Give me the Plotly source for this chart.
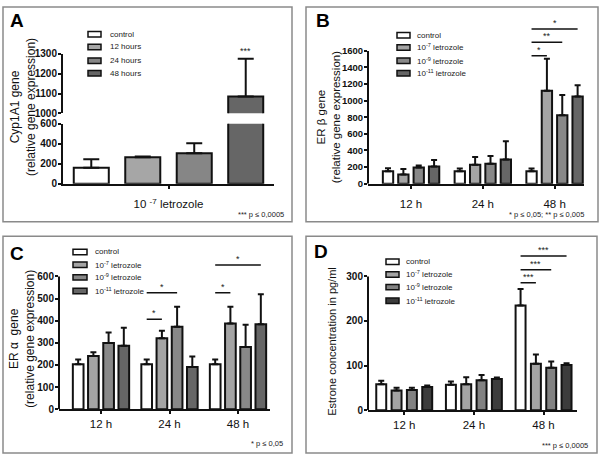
import plotly.graph_objects as go

# ---------------- data ----------------
groups = ["12 h", "24 h", "48 h"]
series_labels = ["control", "10<sup>-7</sup> letrozole", "10<sup>-9</sup> letrozole",
                 "10<sup>-11</sup> letrozole"]

# Panel A (Cyp1A1)
a_category = "10 <sup>-7</sup> letrozole"
a_labels = ["control", "12 hours", "24 hours", "48 hours"]
a_means = [160, 265, 305, 1085]
a_err = [85, 7, 100, 190]

# Panel B (ER beta)
b_means = [[150, 150, 150], [110, 227, 1120], [196, 239, 824], [208, 290, 1050]]
b_err = [[35, 33, 33], [66, 95, 385], [24, 94, 243], [78, 220, 135]]
b_sig = [(2, 0, 1, 1540, "*"), (2, 0, 2, 1705, "**"), (2, 0, 3, 1865, "*")]

# Panel C (ER alpha)
c_means = [[203, 203, 203], [240, 321, 387], [299, 372, 281], [287, 191, 384]]
c_err = [[22, 22, 22], [17, 33, 76], [47, 91, 101], [81, 47, 135]]
c_sig = [(1, 0, 1, 406, "*"), (1, 0, 2, 526, "*"), (2, 0, 1, 526, "*"), (2, 0, 3, 651, "*")]

# Panel D (Estrone)
d_means = [[58, 57, 235], [44, 58, 104], [45, 67, 95], [52, 70, 101]]
d_err = [[8, 7, 37], [6, 16, 21], [5, 12, 14], [3, 3, 4]]
d_sig = [(2, 0, 1, 286, "***"), (2, 0, 2, 315, "***"), (2, 0, 3, 346, "***")]

a_ticks_low = [0, 200, 400, 600]
a_ticks_high = [1000, 1100, 1200, 1300]
b_ticks = [0, 200, 400, 600, 800, 1000, 1200, 1400, 1600]
c_ticks = [0, 100, 200, 300, 400, 500, 600]
d_ticks = [0, 100, 200, 300]

# ---------------- styling ----------------
W, H = 600, 463
FONT = "Liberation Sans, Arial, sans-serif"


def X(px):
    return px / W


def Y(py):
    return 1 - py / H


cols_a = ["#ffffff", "#a6a6a6", "#868686", "#666666"]
cols_bc = ["#ffffff", "#a4a4a4", "#888888", "#666666"]
cols_d = ["#ffffff", "#a4a4a4", "#828282", "#3c3c3c"]

fig = go.Figure()
shapes = []
annotations = []


def add_bars(xa, ya, cats, means, errs, colors, slot, w):
    for i, (m, e) in enumerate(zip(means, errs)):
        fig.add_trace(go.Bar(
            x=cats, y=m, xaxis=xa, yaxis=ya,
            width=w, offset=-2 * slot + i * slot + (slot - w) / 2,
            marker=dict(color=colors[i], line=dict(color="#111111", width=2)),
            error_y=dict(type="data", array=e, arrayminus=[0] * len(e), symmetric=False,
                         color="#111111", thickness=2, width=3),
            showlegend=False, hoverinfo="skip"))


# Panel A: broken axis -> two stacked y axes
slot_a, w_a = 0.244, 0.166
for xa, ya in (("x", "y"), ("x2", "y2")):
    for i in range(4):
        fig.add_trace(go.Bar(
            x=[a_category], y=[a_means[i]], xaxis=xa, yaxis=ya,
            width=w_a, offset=-2 * slot_a + i * slot_a + (slot_a - w_a) / 2,
            marker=dict(color=cols_a[i], line=dict(color="#111111", width=2)),
            error_y=dict(type="data", array=[a_err[i]], arrayminus=[0], symmetric=False,
                         color="#111111", thickness=2, width=8),
            showlegend=False, hoverinfo="skip"))
annotations.append(dict(x=3 * slot_a / 2, y=a_means[3] + a_err[3], xref="x2", yref="y2",
                        text="***", showarrow=False, yanchor="bottom", yshift=1,
                        font=dict(size=9, family=FONT, color="#222")))

slot_b, w_b = 0.214, 0.144
slot_c, w_c = 0.222, 0.156
slot_d, w_d = 0.22, 0.143
add_bars("x3", "y3", groups, b_means, b_err, cols_bc, slot_b, w_b)
add_bars("x4", "y4", groups, c_means, c_err, cols_bc, slot_c, w_c)
add_bars("x5", "y5", groups, d_means, d_err, cols_d, slot_d, w_d)


def add_sig(sig, xa, ya, slot):
    for g, i0, i1, yv, lab in sig:
        x0 = g + (i0 - 1.5) * slot
        x1 = g + (i1 - 1.5) * slot
        shapes.append(dict(type="line", xref=xa, yref=ya, x0=x0, x1=x1, y0=yv, y1=yv,
                           line=dict(color="#111111", width=1.5)))
        annotations.append(dict(x=(x0 + x1) / 2, y=yv, xref=xa, yref=ya, text=lab,
                                showarrow=False, yanchor="bottom", yshift=-1,
                                font=dict(size=9, family=FONT, color="#222")))


add_sig(b_sig, "x3", "y3", slot_b)
add_sig(c_sig, "x4", "y4", slot_c)
add_sig(d_sig, "x5", "y5", slot_d)

# axis lines for the extended-range panels (only up to top tick)
for xa, ya, top in (("x3", "y3", b_ticks[-1]), ("x4", "y4", c_ticks[-1]), ("x5", "y5", d_ticks[-1])):
    shapes.append(dict(type="line", xref=xa + " domain", yref=ya, x0=0, x1=0, y0=0, y1=top,
                       line=dict(color="#111111", width=2)))

xtickfont = dict(family=FONT, size=11.5, color="#111111")


def yax(domain, rng, ticks, anchor, showline, fsize=10):
    return dict(domain=domain, range=rng, tickvals=ticks, anchor=anchor,
                showline=showline, linecolor="#111111", linewidth=2,
                ticks="outside", ticklen=3, tickwidth=2, tickcolor="#111111",
                ticklabelstandoff=-1,
                showgrid=False, zeroline=False, fixedrange=True,
                tickfont=dict(family=FONT, size=fsize, color="#111111", weight="bold"))


def xax(domain, rng, anchor, standoff):
    return dict(domain=domain, range=rng, anchor=anchor, type="category",
                showline=True, linecolor="#111111", linewidth=2,
                ticks="outside", ticklen=3, tickwidth=1.5, tickcolor="#111111",
                showgrid=False, zeroline=False, tickfont=xtickfont,
                ticklabelstandoff=standoff, fixedrange=True)


layout = dict(
    width=W, height=H, margin=dict(l=0, r=0, t=0, b=0),
    paper_bgcolor="white", plot_bgcolor="rgba(0,0,0,0)",
    barmode="overlay", showlegend=False, hovermode=False,
    font=dict(family=FONT, color="#111111"),
    xaxis=xax([X(63), X(274)], [-0.5, 0.5], "y", 6),
    yaxis=yax([Y(183), Y(121.7)], [0, 600], a_ticks_low, "x", True),
    xaxis2=dict(domain=[X(63), X(274)], range=[-0.5, 0.5], anchor="y2", matches="x",
                type="category", visible=False, fixedrange=True),
    yaxis2=yax([Y(111), Y(50)], [1000, 1300], a_ticks_high, "x2", True),
    xaxis3=xax([X(368), X(584)], [-0.6, 2.41], "y3", 6),
    yaxis3=yax([Y(183), Y(15)], [0, 1600 * (183 - 15) / (183 - 47)], b_ticks, "x3", False, 9.5),
    xaxis4=xax([X(59), X(270)], [-0.613, 2.467], "y4", 0),
    yaxis4=yax([Y(414), Y(240)], [0, 600 * (414 - 240) / (414 - 278)], c_ticks, "x4", False),
    xaxis5=xax([X(368), X(577)], [-0.52, 2.48], "y5", 0),
    yaxis5=yax([Y(415), Y(240)], [0, 300 * (415 - 240) / (415 - 278)], d_ticks, "x5", False),
)

# panel frames
for x0, y0, x1, y1 in ((3, 2, 292, 222), (306, 2, 598, 222), (3, 237, 292, 459), (306, 237, 597, 459)):
    shapes.append(dict(type="rect", xref="paper", yref="paper", x0=X(x0), x1=X(x1),
                       y0=Y(y1), y1=Y(y0), line=dict(color="#8a8a8a", width=1.5),
                       fillcolor="rgba(0,0,0,0)", layer="below"))

# manual legends
legend_specs = [
    (a_labels, cols_a, 88, 101, 108, [30, 43, 57, 70]),
    (series_labels, cols_bc, 397, 410, 415, [31, 43.5, 57, 70]),
    (series_labels, cols_bc, 73, 87, 93, [253, 266, 279, 293]),
    (series_labels, cols_d, 386, 399, 404, [263, 276, 289, 303]),
]
for labels, cols, sx0, sx1, tx, ys in legend_specs:
    for lab, col, yc in zip(labels, cols, ys):
        shapes.append(dict(type="rect", xref="paper", yref="paper", x0=X(sx0), x1=X(sx1),
                           y0=Y(yc + 2.8), y1=Y(yc - 2.8), fillcolor=col,
                           line=dict(color="#111111", width=1.5)))
        annotations.append(dict(x=X(tx), y=Y(yc), xref="paper", yref="paper", text=lab,
                                showarrow=False, xanchor="left", yanchor="middle",
                                font=dict(size=8, family=FONT, color="#222")))

# panel letters
for lab, px, py in (("A", 17, 16), ("B", 323, 16), ("C", 17, 255), ("D", 321, 253)):
    annotations.append(dict(x=X(px), y=Y(py), xref="paper", yref="paper", text=lab,
                            showarrow=False, xanchor="center", yanchor="middle",
                            font=dict(size=19, family=FONT, color="#000", weight="bold")))

# y-axis titles
for txt, px, py, fs in (("Cyp1A1 gene<br>(relative gene expression)", 22.5, 105, 12),
                        ("ER β gene<br>(relative gene expression)", 328, 115, 11.5),
                        ("ER α  gene<br>(relative gene expression)", 22, 342, 12),
                        ("Estrone concentration in pg/ml", 332, 345, 11)):
    annotations.append(dict(x=X(px), y=Y(py), xref="paper", yref="paper", text=txt,
                            showarrow=False, textangle=-90, xanchor="center", yanchor="middle",
                            font=dict(size=fs, family=FONT, color="#111")))

# footnotes
for txt, px, py in (("*** p ≤ 0,0005", 286, 215), ("* p ≤ 0,05; ** p ≤ 0,005", 586, 215),
                    ("* p ≤ 0,05", 285, 449), ("*** p ≤ 0,0005", 590, 451)):
    annotations.append(dict(x=X(px), y=Y(py), xref="paper", yref="paper", text=txt,
                            showarrow=False, xanchor="right", yanchor="middle",
                            font=dict(size=7.5, family=FONT, color="#222")))

layout["shapes"] = shapes
layout["annotations"] = annotations
fig.update_layout(**layout)
fig.write_html("out.html", config={"displayModeBar": False},
               post_script="document.body.style.margin='0';document.body.style.overflow='hidden';")
